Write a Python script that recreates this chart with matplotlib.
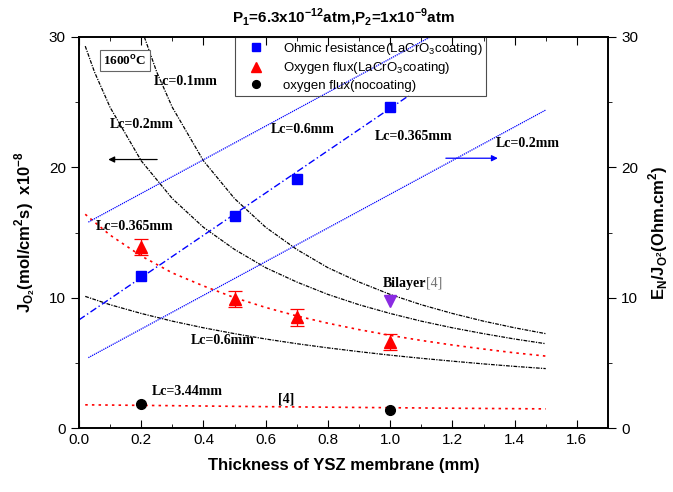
import numpy as np
import matplotlib
matplotlib.use('Agg')
import matplotlib.pyplot as plt
from matplotlib.ticker import MultipleLocator

plt.rcParams['font.family'] = ['Liberation Sans', 'DejaVu Sans']
plt.rcParams['mathtext.fontset'] = 'custom'
plt.rcParams['mathtext.rm'] = 'Liberation Sans'
plt.rcParams['mathtext.bf'] = 'Liberation Sans:bold'

# measured points
ohm_x = [0.2, 0.5, 0.7, 1.0]
ohm_y = [11.7, 16.3, 19.1, 24.6]
flux_x = [0.2, 0.5, 0.7, 1.0]
flux_y = [13.9, 9.9, 8.5, 6.6]
flux_err = [0.6, 0.6, 0.65, 0.65]
nocoat_x = [0.2, 1.0]
nocoat_y = [1.85, 1.35]
bilayer_x = [1.0]
bilayer_y = [9.75]

# model lines (right axis, resistance)
res_up_x = [0.03, 1.5]
res_up_y = [15.8, 34.8]
res_mid_x = [0.0, 1.06]
res_mid_y = [8.3, 25.5]
res_low_x = [0.03, 1.5]
res_low_y = [5.4, 24.4]

# model curves (left axis, flux)
lc01_x = [0.21, 0.25, 0.3, 0.4, 0.5, 0.6, 0.7, 0.8, 0.9, 1.0, 1.1, 1.2, 1.3, 1.4, 1.5]
lc01_y = [30.0, 27.3, 24.6, 20.5, 17.6, 15.4, 13.7, 12.3, 11.2, 10.25, 9.46, 8.79, 8.2, 7.69, 7.24]
lc02_x = [0.02, 0.05, 0.1, 0.2, 0.3, 0.4, 0.5, 0.6, 0.7, 0.8, 0.9, 1.0, 1.1, 1.2, 1.3, 1.4, 1.5]
lc02_y = [29.3, 27.3, 24.6, 20.5, 17.6, 15.4, 13.7, 12.3, 11.2, 10.25, 9.46, 8.79, 8.2, 7.69, 7.24, 6.83, 6.47]
lc06_x = [0.02, 0.1, 0.2, 0.3, 0.4, 0.5, 0.6, 0.7, 0.8, 0.9, 1.0, 1.1, 1.2, 1.3, 1.4, 1.5]
lc06_y = [10.1, 9.46, 8.79, 8.2, 7.69, 7.24, 6.83, 6.47, 6.15, 5.86, 5.59, 5.35, 5.13, 4.92, 4.73, 4.56]
lc0365_x = [0.02, 0.1, 0.2, 0.3, 0.4, 0.5, 0.6, 0.7, 0.8, 0.9, 1.0, 1.1, 1.2, 1.3, 1.4, 1.5]
lc0365_y = [16.4, 14.8, 13.2, 11.9, 10.9, 10.0, 9.25, 8.6, 8.04, 7.55, 7.11, 6.72, 6.37, 6.06, 5.77, 5.52]
lc344_x = [0.02, 0.2, 0.4, 0.6, 0.8, 1.0, 1.2, 1.5]
lc344_y = [1.78, 1.74, 1.69, 1.64, 1.60, 1.56, 1.52, 1.47]

fig = plt.figure(figsize=(6.73, 4.92), dpi=100)
ax = fig.add_axes([0.1174, 0.130, 0.786, 0.7948])
ax2 = ax.twinx()

blk = (0, (3, 1, 1, 1))
ax.plot(lc01_x, lc01_y, color='k', ls=blk, lw=0.9)
ax.plot(lc02_x, lc02_y, color='k', ls=blk, lw=0.9)
ax.plot(lc06_x, lc06_y, color='k', ls=blk, lw=0.9)
ax.plot(lc0365_x, lc0365_y, color='red', ls=(0, (1.5, 2.5)), lw=1.2)
ax.plot(lc344_x, lc344_y, color='red', ls=(0, (1.5, 2.5)), lw=1.2)

ax.plot(res_up_x, res_up_y, color='blue', ls=(0, (1, 0.7)), lw=0.9)
ax.plot(res_low_x, res_low_y, color='blue', ls=(0, (1, 0.7)), lw=0.9)
ax.plot(res_mid_x, res_mid_y, color='blue', ls=(0, (5, 2, 1, 2)), lw=1.0)

h1, = ax.plot(ohm_x, ohm_y, 's', color='blue', ms=7, ls='none')
ax.errorbar(flux_x, flux_y, yerr=flux_err, fmt='none', ecolor='red', capsize=5, elinewidth=0.9, capthick=0.9)
h2, = ax.plot(flux_x, flux_y, '^', color='red', ms=9, ls='none')
h3, = ax.plot(nocoat_x, nocoat_y, 'o', color='black', ms=7, ls='none')
ax.plot(bilayer_x, bilayer_y, 'v', color='#8a2be2', ms=8, ls='none')

ax.set_xlim(0, 1.7)
ax.set_ylim(0, 30)
ax2.set_ylim(0, 30)
ax.xaxis.set_major_locator(MultipleLocator(0.2))
ax.xaxis.set_minor_locator(MultipleLocator(0.1))
ax.yaxis.set_major_locator(MultipleLocator(10))
ax.yaxis.set_minor_locator(MultipleLocator(5))
ax2.yaxis.set_major_locator(MultipleLocator(10))
ax2.yaxis.set_minor_locator(MultipleLocator(5))
ax.tick_params(axis='x', which='both', direction='in', top=True, labelsize=11)
ax.tick_params(axis='x', which='major', length=6)
ax.tick_params(axis='x', which='minor', length=3)
ax.tick_params(axis='y', which='major', direction='out', length=6, labelsize=11)
ax.tick_params(axis='y', which='minor', direction='out', length=3)
ax2.tick_params(axis='y', which='major', direction='out', length=6, labelsize=11)
ax2.tick_params(axis='y', which='minor', direction='out', length=3)
for a in (ax, ax2):
    for s in a.spines.values():
        s.set_linewidth(1.2)

ax.set_xlabel('Thickness of YSZ membrane (mm)', fontsize=12, fontweight='bold', labelpad=8)
ax.set_ylabel(r'J$_\mathbf{O_2}$(mol/cm$^\mathbf{2}$s)  x10$^\mathbf{-8}$', fontsize=12,
              fontweight='bold', labelpad=8)
ax2.set_ylabel(r'E$_\mathbf{N}$/J$_\mathbf{O^2}$(Ohm.cm$^\mathbf{2}$)', fontsize=12,
               fontweight='bold', labelpad=6)
fig.text(0.51, 0.965, r'P$_\mathbf{1}$=6.3x10$^\mathbf{-12}$atm,P$_\mathbf{2}$=1x10$^\mathbf{-9}$atm',
         ha='center', va='center', fontsize=11, fontweight='bold')

leg = ax.legend([h1, h2, h3],
                [r'Ohmic resistance(LaCrO$_3$coating)', r'Oxygen flux(LaCrO$_3$coating)', 'oxygen flux(nocoating)'],
                loc='upper left', bbox_to_anchor=(0.295, 1.0), borderaxespad=0, fontsize=9.5,
                fancybox=False, edgecolor='0.3', framealpha=1, handletextpad=0.8, borderpad=0.3,
                labelspacing=0.25, handlelength=2.5, markerscale=0.8)
leg.get_frame().set_linewidth(0.8)
leg.get_frame().set_facecolor('none')
leg.set_zorder(10)

serif = {'family': ['Liberation Serif', 'DejaVu Serif'], 'fontweight': 'bold', 'fontsize': 10}
ax.text(0.148, 28.2, r'1600$^{\mathbf{o}}$C', ha='center', va='center', fontsize=9.5,
        family=['Liberation Serif'], fontweight='bold',
        bbox=dict(boxstyle='square,pad=0.25', fc='white', ec='0.4', lw=0.8))
ax.text(0.24, 26.6, 'Lc=0.1mm', va='center', **serif)
ax.text(0.10, 23.3, 'Lc=0.2mm', va='center', **serif)
ax.text(0.615, 22.9, 'Lc=0.6mm', va='center', **serif)
ax.text(0.95, 22.4, 'Lc=0.365mm', va='center', **serif)
ax.text(1.34, 21.8, 'Lc=0.2mm', va='center', **serif)
ax.text(0.055, 15.5, 'Lc=0.365mm', va='center', **serif)
ax.text(0.36, 6.7, 'Lc=0.6mm', va='center', **serif)
ax.text(0.235, 2.8, 'Lc=3.44mm', va='center', **serif)
ax.text(0.64, 2.2, '[4]', va='center', family=['Liberation Serif'], fontweight='bold', fontsize=10)
t = ax.text(0.975, 11.1, 'Bilayer', va='center', **serif)
ax.annotate('[4]', xycoords=t, xy=(1, 0.5), va='center', ha='left', color='0.45',
            family=['Liberation Serif'], fontsize=10)

ax.annotate('', xy=(0.085, 20.6), xytext=(0.26, 20.6),
            arrowprops=dict(arrowstyle='-|>', color='k', lw=0.9, mutation_scale=9))
ax.annotate('', xy=(1.355, 20.7), xytext=(1.17, 20.7),
            arrowprops=dict(arrowstyle='-|>', color='blue', lw=0.9, mutation_scale=9))

fig.savefig('out.png', dpi=100)
plt.close()
